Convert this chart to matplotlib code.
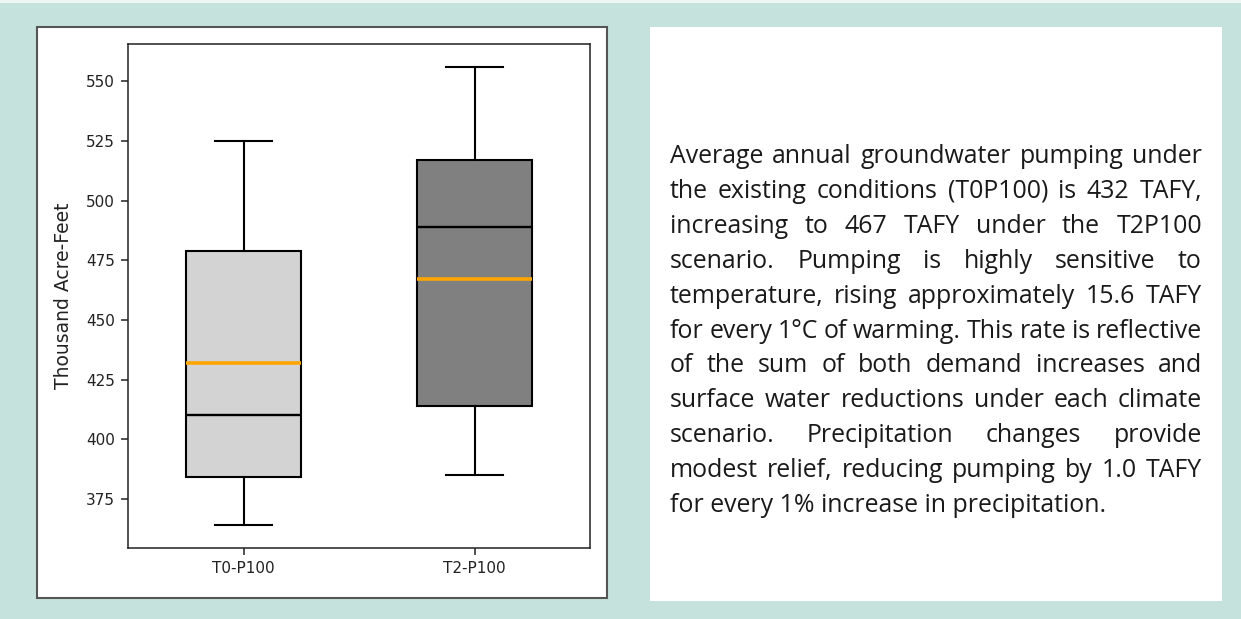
import matplotlib
matplotlib.use("Agg")
import matplotlib.pyplot as plt
from matplotlib.patches import Rectangle

W, H = 1241, 619

# box statistics (thousand acre-feet)
labels = ["T0-P100", "T2-P100"]
whislo = [364, 385]
q1 = [384, 414]
med = [410, 489]
means = [432, 467]
q3 = [479, 517]
whishi = [525, 556]
box_colors = ["#d3d3d3", "#808080"]

paragraph = [
    "Average annual groundwater pumping under",
    "the existing conditions (T0P100) is 432 TAFY,",
    "increasing to 467 TAFY under the T2P100",
    "scenario. Pumping is highly sensitive to",
    "temperature, rising approximately 15.6 TAFY",
    "for every 1°C of warming. This rate is reflective",
    "of the sum of both demand increases and",
    "surface water reductions under each climate",
    "scenario. Precipitation changes provide",
    "modest relief, reducing pumping by 1.0 TAFY",
    "for every 1% increase in precipitation.",
]


def fx(px):
    return px / W


def fy(py):
    return 1 - py / H


fig = plt.figure(figsize=(W / 100, H / 100), dpi=100, facecolor="#c5e3dc")

# thin light strip on top, panels (kept under the axes)
fig.patches.append(Rectangle((0, fy(3)), 1, 3 / H, transform=fig.transFigure,
                             facecolor="#eef6f3", edgecolor="none", zorder=-2))
fig.patches.append(Rectangle((fx(37), fy(598)), fx(570), 571 / H,
                             transform=fig.transFigure, facecolor="white",
                             edgecolor="#555555", linewidth=1.5, zorder=-2))
fig.patches.append(Rectangle((fx(650), fy(601)), fx(572), 574 / H,
                             transform=fig.transFigure, facecolor="white",
                             edgecolor="none", zorder=-2))

ax = fig.add_axes([fx(128), fy(548), fx(462), 504 / H])

stats = []
for i in range(len(labels)):
    stats.append(dict(label=labels[i], whislo=whislo[i], q1=q1[i], med=med[i],
                      mean=means[i], q3=q3[i], whishi=whishi[i], fliers=[]))

bp = ax.bxp(stats, widths=0.5, patch_artist=True, showmeans=True, meanline=True,
            boxprops=dict(edgecolor="black", linewidth=1.5),
            whiskerprops=dict(color="black", linewidth=1.5),
            capprops=dict(color="black", linewidth=1.5),
            medianprops=dict(color="black", linewidth=1.7),
            meanprops=dict(color="orange", linewidth=2.6, linestyle="-"))
for patch, c in zip(bp["boxes"], box_colors):
    patch.set_facecolor(c)

ax.set_ylabel("Thousand Acre-Feet", fontsize=13.5, color="#222222", labelpad=9)
ax.tick_params(labelsize=11, length=4.8, width=1.1, colors="#222222", pad=4.8)
for sp in ax.spines.values():
    sp.set_linewidth(1.1)
    sp.set_color("#222222")

# justified paragraph in the right box
renderer = fig.canvas.get_renderer()
family = "Open Sans"


def width_of(s, size):
    t = fig.text(0, 0, s, fontsize=size, family=family)
    w = t.get_window_extent(renderer).width
    t.remove()
    return w


fs = 10 * 437 / width_of(paragraph[-1], 10)
left, right = 670, 1202
base0, step = 163, 34.9
for i, line in enumerate(paragraph):
    y = fy(base0 + i * step)
    if i == len(paragraph) - 1:
        fig.text(fx(left), y, line, fontsize=fs, family=family,
                 color="#1a1a1a", va="baseline")
        continue
    words = line.split(" ")
    widths = [width_of(w, fs) for w in words]
    gap = (right - left - sum(widths)) / (len(words) - 1)
    x = left
    for w, wd in zip(words, widths):
        fig.text(fx(x), y, w, fontsize=fs, family=family, color="#1a1a1a",
                 va="baseline")
        x += wd + gap

fig.savefig("out.png", dpi=100, facecolor=fig.get_facecolor())
